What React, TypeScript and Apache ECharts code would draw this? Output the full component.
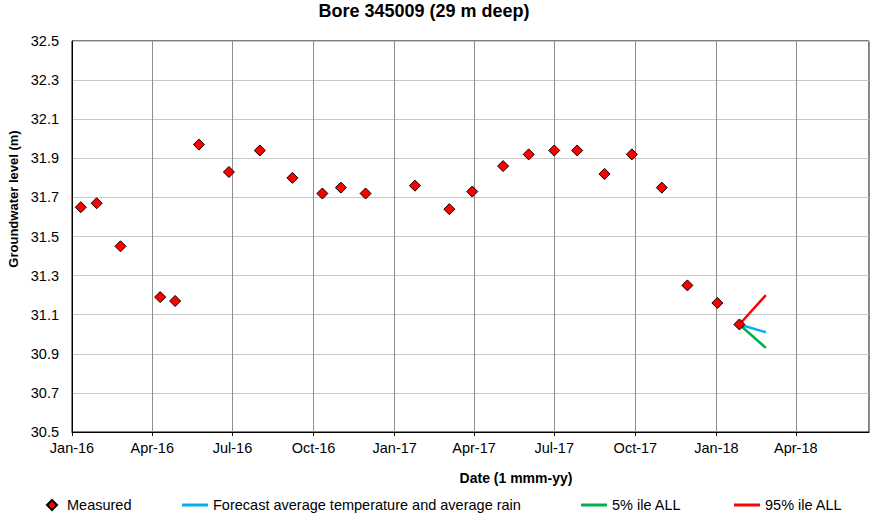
import React, { useEffect, useRef } from "react";
import * as echarts from "echarts";

const chartTitle = "Bore 345009 (29 m deep)";
const xAxisTitle = "Date (1 mmm-yy)";
const yAxisTitle = "Groundwater level (m)";

const axisStart = "2016-01-01";
const axisEnd = "2018-06-23";
const monthNames = ["Jan", "Feb", "Mar", "Apr", "May", "Jun", "Jul", "Aug", "Sep", "Oct", "Nov", "Dec"];

const measuredDates = [
  "2016-01-11", "2016-01-29", "2016-02-25", "2016-04-10", "2016-04-27",
  "2016-05-24", "2016-06-27", "2016-08-01", "2016-09-07", "2016-10-11",
  "2016-11-01", "2016-11-29", "2017-01-24", "2017-03-04", "2017-03-30",
  "2017-05-04", "2017-06-02", "2017-07-01", "2017-07-27", "2017-08-27",
  "2017-09-27", "2017-10-31", "2017-11-29", "2018-01-02", "2018-01-27",
];
const measuredLevels = [
  31.65, 31.67, 31.45, 31.19, 31.17,
  31.97, 31.83, 31.94, 31.80, 31.72,
  31.75, 31.72, 31.76, 31.64, 31.73,
  31.86, 31.92, 31.94, 31.94, 31.82,
  31.92, 31.75, 31.25, 31.16, 31.05,
];

const forecastDates = ["2018-01-27", "2018-02-26"];
const forecastAverage = [31.05, 31.01];
const forecast5 = [31.05, 30.93];
const forecast95 = [31.05, 31.2];

const seriesNames = [
  "Measured",
  "Forecast average temperature and average rain",
  "5% ile ALL",
  "95% ile ALL",
];

function toTime(s: string): number {
  const [y, m, d] = s.split("-").map(Number);
  return new Date(y, m - 1, d).getTime();
}

function pairs(dates: string[], vals: number[]) {
  return dates.map((d, i) => [toTime(d), vals[i]]);
}

const FONT = "'Liberation Sans', Arial, sans-serif";

export default function App() {
  const ref = useRef<HTMLDivElement>(null);

  useEffect(() => {
    if (!ref.current) return;
    const chart = echarts.init(ref.current, null, { renderer: "svg" });
    const lineLegend = (name: string, left: number) => ({
      data: [{ name, icon: "rect" }],
      left,
      top: 497.5,
      itemWidth: 26,
      itemHeight: 3,
      padding: 0,
      textStyle: { fontFamily: FONT, fontSize: 14.5, color: "#000" },
    });
    chart.setOption({
      animation: false,
      backgroundColor: "#fff",
      textStyle: { fontFamily: FONT },
      grid: {
        left: 72,
        right: 1,
        top: 41,
        bottom: 82,
        show: true,
        borderColor: "#000",
        borderWidth: 1,
        containLabel: false,
      },
      graphic: [
        {
          type: "text",
          x: 424,
          y: 11,
          style: {
            text: chartTitle,
            font: `bold 18px ${FONT}`,
            fill: "#000",
            textAlign: "center",
            textVerticalAlign: "middle",
          },
        },
        {
          type: "text",
          x: 516,
          y: 478,
          style: {
            text: xAxisTitle,
            font: `bold 14px ${FONT}`,
            fill: "#000",
            textAlign: "center",
            textVerticalAlign: "middle",
          },
        },
        {
          type: "text",
          x: 13,
          y: 199,
          rotation: Math.PI / 2,
          style: {
            text: yAxisTitle,
            font: `bold 13px ${FONT}`,
            fill: "#000",
            textAlign: "center",
            textVerticalAlign: "middle",
          },
        },
      ],
      legend: [
        {
          data: [{ name: seriesNames[0] }],
          left: 46,
          top: 497.5,
          itemWidth: 10,
          itemHeight: 10,
          padding: 0,
          textStyle: { fontFamily: FONT, fontSize: 14.5, color: "#000", padding: [0, 0, 0, 5] },
        },
        lineLegend(seriesNames[1], 182),
        lineLegend(seriesNames[2], 581),
        lineLegend(seriesNames[3], 734),
      ],
      xAxis: {
        type: "time",
        min: toTime(axisStart),
        max: toTime(axisEnd),
        splitNumber: 10,
        axisLine: { show: true, lineStyle: { color: "#000", width: 1 } },
        axisTick: { show: true, length: 4, lineStyle: { color: "#000" } },
        axisLabel: {
          fontFamily: FONT,
          fontSize: 14.5,
          color: "#000",
          margin: 8,
          hideOverlap: false,
          formatter: (val: number) => {
            const d = new Date(val);
            if (d.getDate() !== 1 || d.getMonth() % 3 !== 0) return "";
            return monthNames[d.getMonth()] + "-" + String(d.getFullYear()).slice(2);
          },
        },
        splitLine: { show: true, lineStyle: { color: "#8f8f8f", width: 1 } },
      },
      yAxis: {
        type: "value",
        min: 30.5,
        max: 32.5,
        interval: 0.2,
        axisLine: { show: true, lineStyle: { color: "#000", width: 1 } },
        axisTick: { show: false },
        axisLabel: {
          fontFamily: FONT,
          fontSize: 14.5,
          color: "#000",
          margin: 13,
          formatter: (v: number) => v.toFixed(1),
        },
        splitLine: { show: true, lineStyle: { color: "#c8c8c8", width: 1 } },
      },
      series: [
        {
          name: seriesNames[0],
          type: "scatter",
          symbol: "diamond",
          symbolSize: 11,
          z: 5,
          itemStyle: { color: "#ff0000", borderColor: "#000", borderWidth: 1, opacity: 1 },
          data: pairs(measuredDates, measuredLevels),
        },
        {
          name: seriesNames[1],
          type: "line",
          symbol: "none",
          color: "#00b0f0",
          lineStyle: { color: "#00b0f0", width: 2.5 },
          z: 2,
          data: pairs(forecastDates, forecastAverage),
        },
        {
          name: seriesNames[2],
          type: "line",
          symbol: "none",
          color: "#00b050",
          lineStyle: { color: "#00b050", width: 2.5 },
          z: 2,
          data: pairs(forecastDates, forecast5),
        },
        {
          name: seriesNames[3],
          type: "line",
          symbol: "none",
          color: "#ff0000",
          lineStyle: { color: "#ff0000", width: 2.5 },
          z: 2,
          data: pairs(forecastDates, forecast95),
        },
      ],
    });
    return () => chart.dispose();
  }, []);

  return (
    <div
      ref={ref}
      style={{ position: "fixed", left: 0, top: 0, width: 870, height: 514, background: "#fff" }}
    />
  );
}
